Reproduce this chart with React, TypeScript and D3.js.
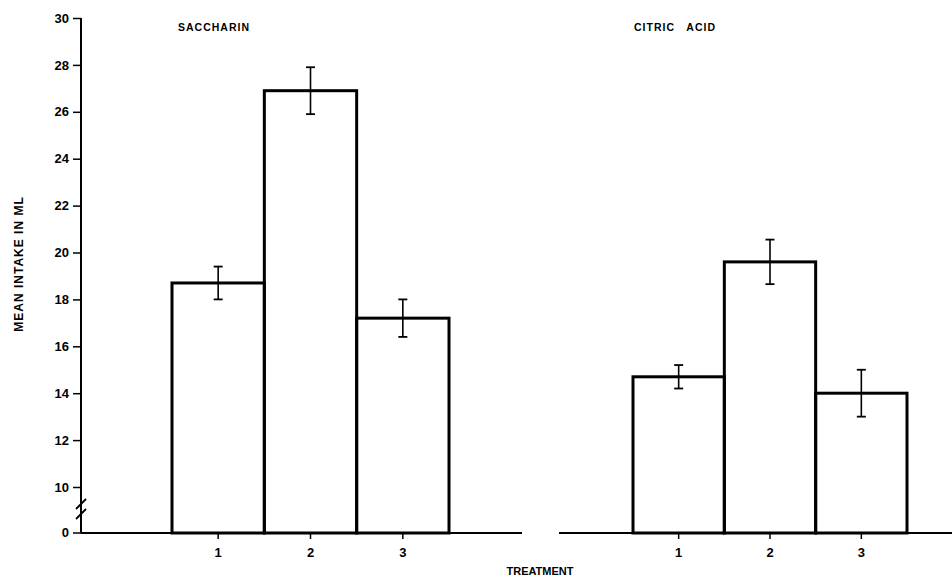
import * as d3 from "d3";
import React, { useEffect, useRef } from "react";

// treatment groups and panel names
const treatments = ["1", "2", "3"];
const panels = ["SACCHARIN", "CITRIC   ACID"];

// mean intake in ml, with the half-length of each error bar
const saccharinMeans = [18.7, 26.9, 17.2];
const saccharinErr = [0.7, 1.0, 0.8];
const citricMeans = [14.7, 19.6, 14.0];
const citricErr = [0.5, 0.95, 1.0];

const yTicks = [10, 12, 14, 16, 18, 20, 22, 24, 26, 28, 30];

const App = () => {
  const svgRef = useRef<SVGSVGElement>(null);

  useEffect(() => {
    const width = 952;
    const height = 585;
    const font = "'Liberation Sans', Arial, sans-serif";
    const svg = d3
      .select(svgRef.current)
      .attr("width", width)
      .attr("height", height)
      .style("background", "#fff");
    svg.selectAll("*").remove();

    //y scale, the axis is broken between 10 and 0
    const yScale = d3.scaleLinear().domain([10, 30]).range([487, 18]);
    const baseY = 533;
    const axisX = 81;

    const yAxis = d3
      .axisLeft(yScale)
      .tickValues(yTicks)
      .tickSize(8)
      .tickPadding(4);
    const gy = svg.append("g").attr("transform", `translate(${axisX},0)`).call(yAxis);
    gy.select(".domain").remove();
    gy.selectAll("line").attr("stroke-width", 1.5);
    gy.selectAll("text")
      .style("font-family", font)
      .style("font-weight", "bold")
      .style("font-size", "13px");
    // zero tick below the break
    gy.append("line")
      .attr("x1", -8)
      .attr("x2", 0)
      .attr("y1", baseY)
      .attr("y2", baseY)
      .attr("stroke", "#000")
      .attr("stroke-width", 1.5);
    gy.append("text")
      .attr("x", -12)
      .attr("y", baseY)
      .attr("dy", "0.32em")
      .attr("text-anchor", "end")
      .attr("fill", "#000")
      .style("font-family", font)
      .style("font-weight", "bold")
      .style("font-size", "13px")
      .text("0");
    // axis line
    svg.append("line")
      .attr("x1", axisX)
      .attr("x2", axisX)
      .attr("y1", yScale(30))
      .attr("y2", baseY)
      .attr("stroke", "#000")
      .attr("stroke-width", 2);
    // break marks
    [504, 514].forEach((cy) => {
      svg.append("line")
        .attr("x1", axisX - 5)
        .attr("x2", axisX + 5)
        .attr("y1", cy + 5)
        .attr("y2", cy - 5)
        .attr("stroke", "#000")
        .attr("stroke-width", 1.8);
    });

    // y title
    svg.append("text")
      .attr("transform", `translate(23,264) rotate(-90)`)
      .attr("text-anchor", "middle")
      .style("font-family", font)
      .style("font-weight", "bold")
      .style("font-size", "12px")
      .style("letter-spacing", "1px")
      .text("MEAN INTAKE IN ML");

    const panelDefs = [
      { name: panels[0], means: saccharinMeans, err: saccharinErr, axis: [axisX, 522], bars: [172, 449], title: 178 },
      { name: panels[1], means: citricMeans, err: citricErr, axis: [559, 952], bars: [633, 907], title: 634 },
    ];

    panelDefs.forEach((p) => {
      const xScale = d3.scaleBand().domain(treatments).range(p.bars).padding(0);
      const g = svg.append("g");

      // baseline
      g.append("line")
        .attr("x1", p.axis[0])
        .attr("x2", p.axis[1])
        .attr("y1", baseY)
        .attr("y2", baseY)
        .attr("stroke", "#000")
        .attr("stroke-width", 2);

      const xAxis = d3.axisBottom(xScale).tickSize(6).tickPadding(9);
      const gx = g.append("g").attr("transform", `translate(0,${baseY})`).call(xAxis);
      gx.select(".domain").remove();
      gx.selectAll("line").attr("stroke-width", 1.5);
      gx.selectAll("text")
        .style("font-family", font)
        .style("font-weight", "bold")
        .style("font-size", "13px");

      // bars
      g.selectAll(".bar")
        .data(p.means)
        .join("rect")
        .attr("x", (d, i) => xScale(treatments[i]))
        .attr("y", (d) => yScale(d))
        .attr("width", xScale.bandwidth())
        .attr("height", (d) => baseY - yScale(d))
        .attr("fill", "none")
        .attr("stroke", "#000")
        .attr("stroke-width", 3);

      // error bars
      p.means.forEach((m, i) => {
        const cx = xScale(treatments[i]) + xScale.bandwidth() / 2;
        const top = yScale(m + p.err[i]);
        const bot = yScale(m - p.err[i]);
        g.append("line")
          .attr("x1", cx).attr("x2", cx)
          .attr("y1", top).attr("y2", bot)
          .attr("stroke", "#000").attr("stroke-width", 1.6);
        [top, bot].forEach((yy) => {
          g.append("line")
            .attr("x1", cx - 4.5).attr("x2", cx + 4.5)
            .attr("y1", yy).attr("y2", yy)
            .attr("stroke", "#000").attr("stroke-width", 1.8);
        });
      });

      // panel title
      g.append("text")
        .attr("x", p.title)
        .attr("y", 31)
        .attr("fill", "#000")
        .style("font-family", font)
        .style("font-weight", "bold")
        .style("font-size", "10.5px")
        .style("letter-spacing", "1px")
        .style("white-space", "pre")
        .text(p.name);
    });

    // x title
    svg.append("text")
      .attr("x", 540)
      .attr("y", 575)
      .attr("text-anchor", "middle")
      .style("font-family", font)
      .style("font-weight", "bold")
      .style("font-size", "11px")
      .text("TREATMENT");
  }, []);

  return (
    <svg
      ref={svgRef}
      style={{ position: "absolute", left: 0, top: 0, display: "block" }}
    ></svg>
  );
};

export default App;
